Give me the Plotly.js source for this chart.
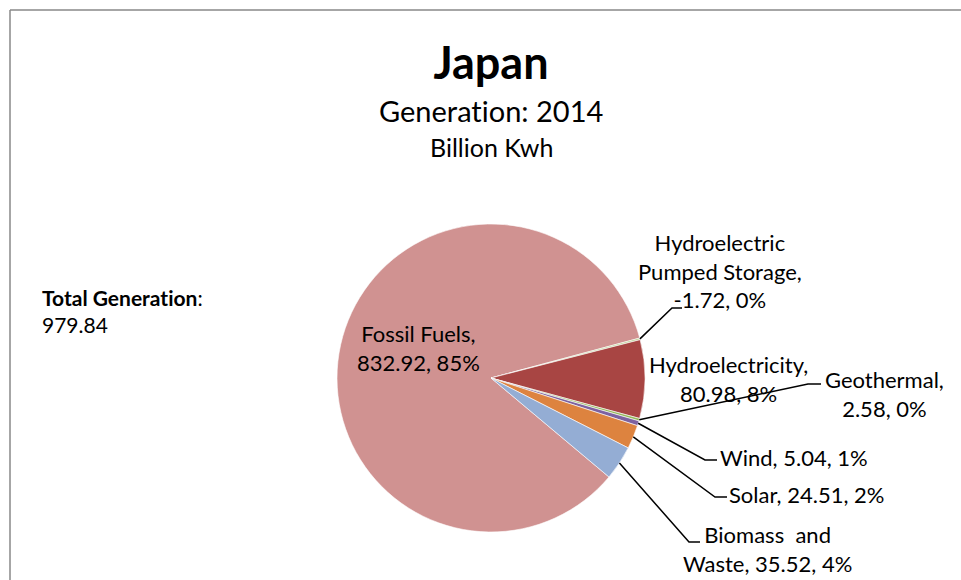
<!DOCTYPE html>
<html><head><meta charset="utf-8">
<script src="https://cdn.plot.ly/plotly-3.0.1.min.js"></script>
<style>html,body{margin:0;padding:0;background:#fff}#chart{width:961px;height:580px}
svg text{font-variant-ligatures:none;font-feature-settings:"liga" 0,"clig" 0}</style>
</head><body><div id="chart"></div>
<script>
// ---- data ----
const categories = ['Fossil Fuels', 'Hydroelectric Pumped Storage', 'Hydroelectricity', 'Geothermal', 'Wind', 'Solar', 'Biomass  and Waste'];
const generation = [832.92, -1.72, 80.98, 2.58, 5.04, 24.51, 35.52];
const totalGeneration = 979.84;
const titleText = 'Japan';
const subtitleText = 'Generation: 2014';
const unitText = 'Billion Kwh';
const sliceColors = ['#D09291', '#B9CF8F', '#A84543', '#94B85A', '#7D62A0', '#DD833F', '#94ADD4'];

// ---- layout helpers ----
const W = 961, H = 580;
const px = x => x / W;
const py = y => 1 - y / H;
const FONT = 'Lato, "Open Sans", sans-serif';
const pieCx = 491, pieCy = 378, pieR = 154;
const rotation = 130;

const absVals = generation.map(v => Math.abs(v));
const absSum = absVals.reduce((a, b) => a + b, 0);
const pctText = absVals.map(v => Math.round(100 * v / absSum) + '%');

// label text: break rules (layout/formatting only)
const nameBreaks = {1: 'Hydroelectric<br>Pumped Storage', 6: 'Biomass  and<br>Waste'};
const breakAfterName = [true, true, true, true, false, false, false];
function labelText(i) {
  const name = nameBreaks[i] || categories[i];
  return name + ',' + (breakAfterName[i] ? '<br>' : ' ') + generation[i].toFixed(2) + ', ' + pctText[i];
}
// label positions (px) and leader elbows
const labelPos = [
  {x: 418, y: 348, xa: 'center'},
  {x: 720, y: 271, xa: 'center', elbow: [672, 308], end: [682, 308]},
  {x: 728, y: 379, xa: 'center'},
  {x: 884, y: 394, xa: 'center', elbow: [808, 384], end: [821, 384]},
  {x: 718, y: 457, xa: 'left', elbow: [705, 460], end: [717, 460]},
  {x: 727, y: 494, xa: 'left', elbow: [715, 497], end: [727, 497]},
  {x: 767, y: 549, xa: 'center', elbow: [689, 542], end: [700, 542]}
];

// slice mid angles (clockwise from 12 o'clock)
let acc = rotation;
const midAngles = absVals.map(v => { const a0 = acc; acc += 360 * v / absSum; return (a0 + acc) / 2; });

const annotations = [];
const shapes = [];
categories.forEach((c, i) => {
  const p = labelPos[i];
  annotations.push({
    xref: 'paper', yref: 'paper', x: px(p.x), y: py(p.y), xanchor: p.xa, yanchor: 'middle',
    text: labelText(i), showarrow: false, align: 'center',
    font: {family: FONT, size: 22, color: '#000'}
  });
  if (p.elbow) {
    const a = midAngles[i] * Math.PI / 180;
    const sx = pieCx + pieR * Math.sin(a), sy = pieCy - pieR * Math.cos(a);
    shapes.push({
      type: 'path', xref: 'paper', yref: 'paper',
      path: `M ${px(sx)} ${py(sy)} L ${px(p.elbow[0])} ${py(p.elbow[1])} L ${px(p.end[0])} ${py(p.end[1])}`,
      line: {color: '#000', width: 1.5}
    });
  }
});
annotations.push({
  xref: 'paper', yref: 'paper', x: px(491), y: py(110), xanchor: 'center', yanchor: 'middle',
  text: subtitleText, showarrow: false, font: {family: FONT, size: 29, color: '#000'}
});
annotations.push({
  xref: 'paper', yref: 'paper', x: px(491), y: py(147), xanchor: 'center', yanchor: 'middle',
  text: unitText, showarrow: false, font: {family: FONT, size: 25, color: '#000'}
});
annotations.push({
  xref: 'paper', yref: 'paper', x: px(40), y: py(311), xanchor: 'left', yanchor: 'middle', align: 'left',
  text: '<b>Total Generation</b>:<br>' + totalGeneration.toFixed(2), showarrow: false,
  font: {family: FONT, size: 21, color: '#000'}
});
// chart-area frame
shapes.push({type: 'line', xref: 'paper', yref: 'paper', x0: px(10), y0: py(10), x1: 1.01, y1: py(10), line: {color: '#888', width: 1.5}});
shapes.push({type: 'line', xref: 'paper', yref: 'paper', x0: px(10), y0: py(10), x1: px(10), y1: -0.01, line: {color: '#888', width: 1.5}});

const trace = {
  type: 'pie', labels: categories, values: absVals, sort: false, direction: 'clockwise', rotation: rotation,
  marker: {colors: sliceColors, line: {color: '#fff', width: 0.6}},
  textinfo: 'none', hoverinfo: 'label+value+percent', showlegend: false,
  domain: {x: [px(pieCx - pieR), px(pieCx + pieR)], y: [py(pieCy + pieR), py(pieCy - pieR)]}
};

const layout = {
  width: W, height: H, margin: {l: 0, r: 0, t: 0, b: 0},
  paper_bgcolor: '#fff', plot_bgcolor: '#fff', showlegend: false,
  title: {text: '<b>' + titleText + '</b>', x: px(491), xanchor: 'center', xref: 'paper', y: py(63), yref: 'paper', yanchor: 'middle',
    font: {family: FONT, size: 45, color: '#000'}},
  annotations: annotations, shapes: shapes
};
Plotly.newPlot('chart', [trace], layout, {displayModeBar: false, staticPlot: true});
</script></body></html>
